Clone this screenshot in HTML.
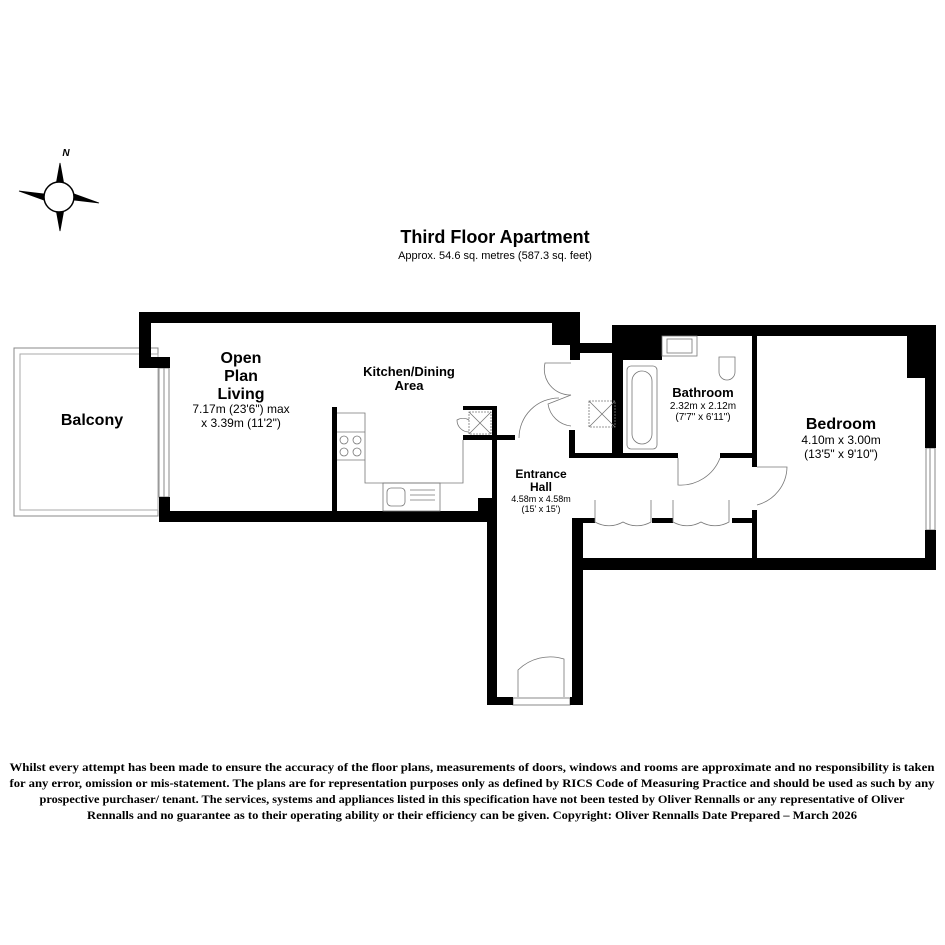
<!DOCTYPE html>
<html><head><meta charset="utf-8"><style>body{margin:0;background:#fff}svg{display:block}</style></head><body>
<svg width="945" height="945" viewBox="0 0 945 945" xmlns="http://www.w3.org/2000/svg" font-family="Liberation Sans, sans-serif">
<rect width="945" height="945" fill="#fff"/>
<!-- compass -->
<g stroke="#000" stroke-width="0.8">
<polygon points="60,163 64,185 56,185" fill="#000"/>
<polygon points="60,231 64,209 56,209" fill="#000"/>
<polygon points="19,191 44,194 44,200" fill="#000"/>
<polygon points="99,203 74,194 74,200" fill="#000"/>
<circle cx="59" cy="197" r="15" fill="#fff" stroke-width="1.5"/>
</g>
<text x="66" y="156" font-size="10" font-weight="bold" font-style="italic" text-anchor="middle">N</text>
<!-- title -->
<text x="495" y="243" font-size="18" font-weight="bold" text-anchor="middle">Third Floor Apartment</text>
<text x="495" y="259" font-size="11" text-anchor="middle">Approx. 54.6 sq. metres (587.3 sq. feet)</text>
<!-- balcony -->
<rect x="14" y="348" width="144" height="168" fill="none" stroke="#888" stroke-width="1"/>
<rect x="20" y="354" width="138" height="156" fill="none" stroke="#aaa" stroke-width="1"/>
<text x="92" y="425" font-size="16" font-weight="bold" text-anchor="middle">Balcony</text>
<!-- windows -->
<g fill="#fff" stroke="#888" stroke-width="1">
<rect x="159" y="368" width="10" height="129"/>
<line x1="164" y1="368" x2="164" y2="497"/>
<rect x="926" y="448" width="9" height="82"/>
<line x1="930" y1="448" x2="930" y2="530"/>
<rect x="513" y="698" width="57" height="7"/>
</g>
<!-- walls -->
<g fill="#000">
<rect x="139" y="312" width="441" height="11"/>
<rect x="139" y="312" width="12" height="56"/>
<rect x="139" y="357" width="31" height="11"/>
<rect x="159" y="497" width="11" height="25"/>
<rect x="159" y="511" width="338" height="11"/>
<rect x="552" y="312" width="28" height="33"/>
<rect x="570" y="312" width="10" height="48"/>
<rect x="570" y="343" width="43" height="10"/>
<rect x="612" y="325" width="324" height="11"/>
<rect x="612" y="325" width="50" height="35"/>
<rect x="612" y="325" width="10" height="133"/>
<rect x="618" y="325" width="5" height="133"/>
<rect x="752" y="325" width="5" height="142"/>
<rect x="752" y="510" width="5" height="55"/>
<rect x="925" y="325" width="11" height="123"/>
<rect x="925" y="530" width="11" height="40"/>
<rect x="907" y="325" width="29" height="53"/>
<rect x="572" y="558" width="364" height="12"/>
<rect x="572" y="518" width="11" height="187"/>
<rect x="487" y="498" width="10" height="207"/>
<rect x="487" y="697" width="26" height="8"/>
<rect x="570" y="697" width="13" height="8"/>
<rect x="569" y="453" width="109" height="5"/>
<rect x="720" y="453" width="37" height="5"/>
<rect x="569" y="430" width="6" height="28"/>
<rect x="572" y="518" width="23" height="5"/>
<rect x="652" y="518" width="21" height="5"/>
<rect x="732" y="518" width="20" height="5"/>
<rect x="463" y="406" width="34" height="4"/>
<rect x="492" y="406" width="5" height="116"/>
<rect x="463" y="435" width="52" height="5"/>
<rect x="478" y="498" width="19" height="24"/>
<rect x="332" y="407" width="5" height="104"/>
</g>
<!-- fixtures & doors -->
<g fill="none" stroke="#777" stroke-width="0.8">
<polyline points="337,413 365,413 365,483 463,483 463,440"/>
<line x1="337" y1="432" x2="365" y2="432"/><line x1="337" y1="460" x2="365" y2="460"/>
<circle cx="344" cy="440" r="4"/><circle cx="357" cy="440" r="4"/><circle cx="344" cy="452" r="4"/><circle cx="357" cy="452" r="4"/>
<rect x="383" y="483" width="57" height="28"/><rect x="387" y="488" width="18" height="18" rx="4"/>
<line x1="410" y1="490" x2="435" y2="490"/><line x1="410" y1="495" x2="435" y2="495"/><line x1="410" y1="500" x2="435" y2="500"/>
<rect x="469" y="412" width="22" height="22" stroke-dasharray="2,1"/><line x1="469" y1="412" x2="491" y2="434"/><line x1="491" y1="412" x2="469" y2="434"/>
<path d="M469 420 A12 12 0 0 0 457 420 A12 12 0 0 0 469 432"/>
<rect x="589" y="401" width="26" height="26" stroke-dasharray="2,1"/><line x1="589" y1="401" x2="615" y2="427"/><line x1="615" y1="401" x2="589" y2="427"/>
<path d="M571 363 L545 363 A26 26 0 0 0 571 395"/>
<path d="M571 395 L548 404 A26 26 0 0 0 571 426"/>
<path d="M519 438 A40 40 0 0 1 559 398"/>
<rect x="627" y="366" width="30" height="83" rx="4"/>
<rect x="632" y="371" width="20" height="73" rx="10"/>
<rect x="662" y="336" width="35" height="20"/><rect x="667" y="339" width="25" height="14"/>
<path d="M719 357 L735 357 L735 372 A8 8 0 0 1 719 372 Z"/>
<path d="M678 458 L678 485 A42 42 0 0 0 720 458"/>
<path d="M757 467 L787 467 A40 40 0 0 1 757 505"/>
<path d="M595 500 L595 522 A28 28 0 0 0 623 522 A28 28 0 0 0 651 522 L651 500"/>
<path d="M673 500 L673 522 A28 28 0 0 0 701 522 A28 28 0 0 0 729 522 L729 500"/>
<path d="M518 697 L518 670 A46 46 0 0 1 564 659 L564 697"/>
</g>
<!-- labels -->
<g text-anchor="middle">
<text x="241" y="363" font-size="16" font-weight="bold">Open</text>
<text x="241" y="381" font-size="16" font-weight="bold">Plan</text>
<text x="241" y="399" font-size="16" font-weight="bold">Living</text>
<text x="241" y="413" font-size="12">7.17m (23'6") max</text>
<text x="241" y="427" font-size="12">x 3.39m (11'2")</text>
<text x="409" y="376" font-size="13" font-weight="bold">Kitchen/Dining</text>
<text x="409" y="390" font-size="13" font-weight="bold">Area</text>
<text x="541" y="478" font-size="12" font-weight="bold">Entrance</text>
<text x="541" y="491" font-size="12" font-weight="bold">Hall</text>
<text x="541" y="502" font-size="9">4.58m x 4.58m</text>
<text x="541" y="512" font-size="9">(15' x 15')</text>
<text x="703" y="397" font-size="13" font-weight="bold">Bathroom</text>
<text x="703" y="409" font-size="10">2.32m x 2.12m</text>
<text x="703" y="420" font-size="10">(7'7" x 6'11")</text>
<text x="841" y="429" font-size="16" font-weight="bold">Bedroom</text>
<text x="841" y="444" font-size="12">4.10m x 3.00m</text>
<text x="841" y="458" font-size="12">(13'5" x 9'10")</text>
</g>
<g font-family="Liberation Serif, serif" font-size="11.5" font-weight="bold" text-anchor="middle">
<text x="472" y="771" textLength="925" lengthAdjust="spacingAndGlyphs">Whilst every attempt has been made to ensure the accuracy of the floor plans, measurements of doors, windows and rooms are approximate and no responsibility is taken</text>
<text x="472" y="787" textLength="925" lengthAdjust="spacingAndGlyphs">for any error, omission or mis-statement. The plans are for representation purposes only as defined by RICS Code of Measuring Practice and should be used as such by any</text>
<text x="472" y="803" textLength="865" lengthAdjust="spacingAndGlyphs">prospective purchaser/ tenant. The services, systems and appliances listed in this specification have not been tested by Oliver Rennalls or any representative of Oliver</text>
<text x="472" y="819" textLength="770" lengthAdjust="spacingAndGlyphs">Rennalls and no guarantee as to their operating ability or their efficiency can be given. Copyright: Oliver Rennalls Date Prepared – March 2026</text>
</g>
</svg>
</body></html>
